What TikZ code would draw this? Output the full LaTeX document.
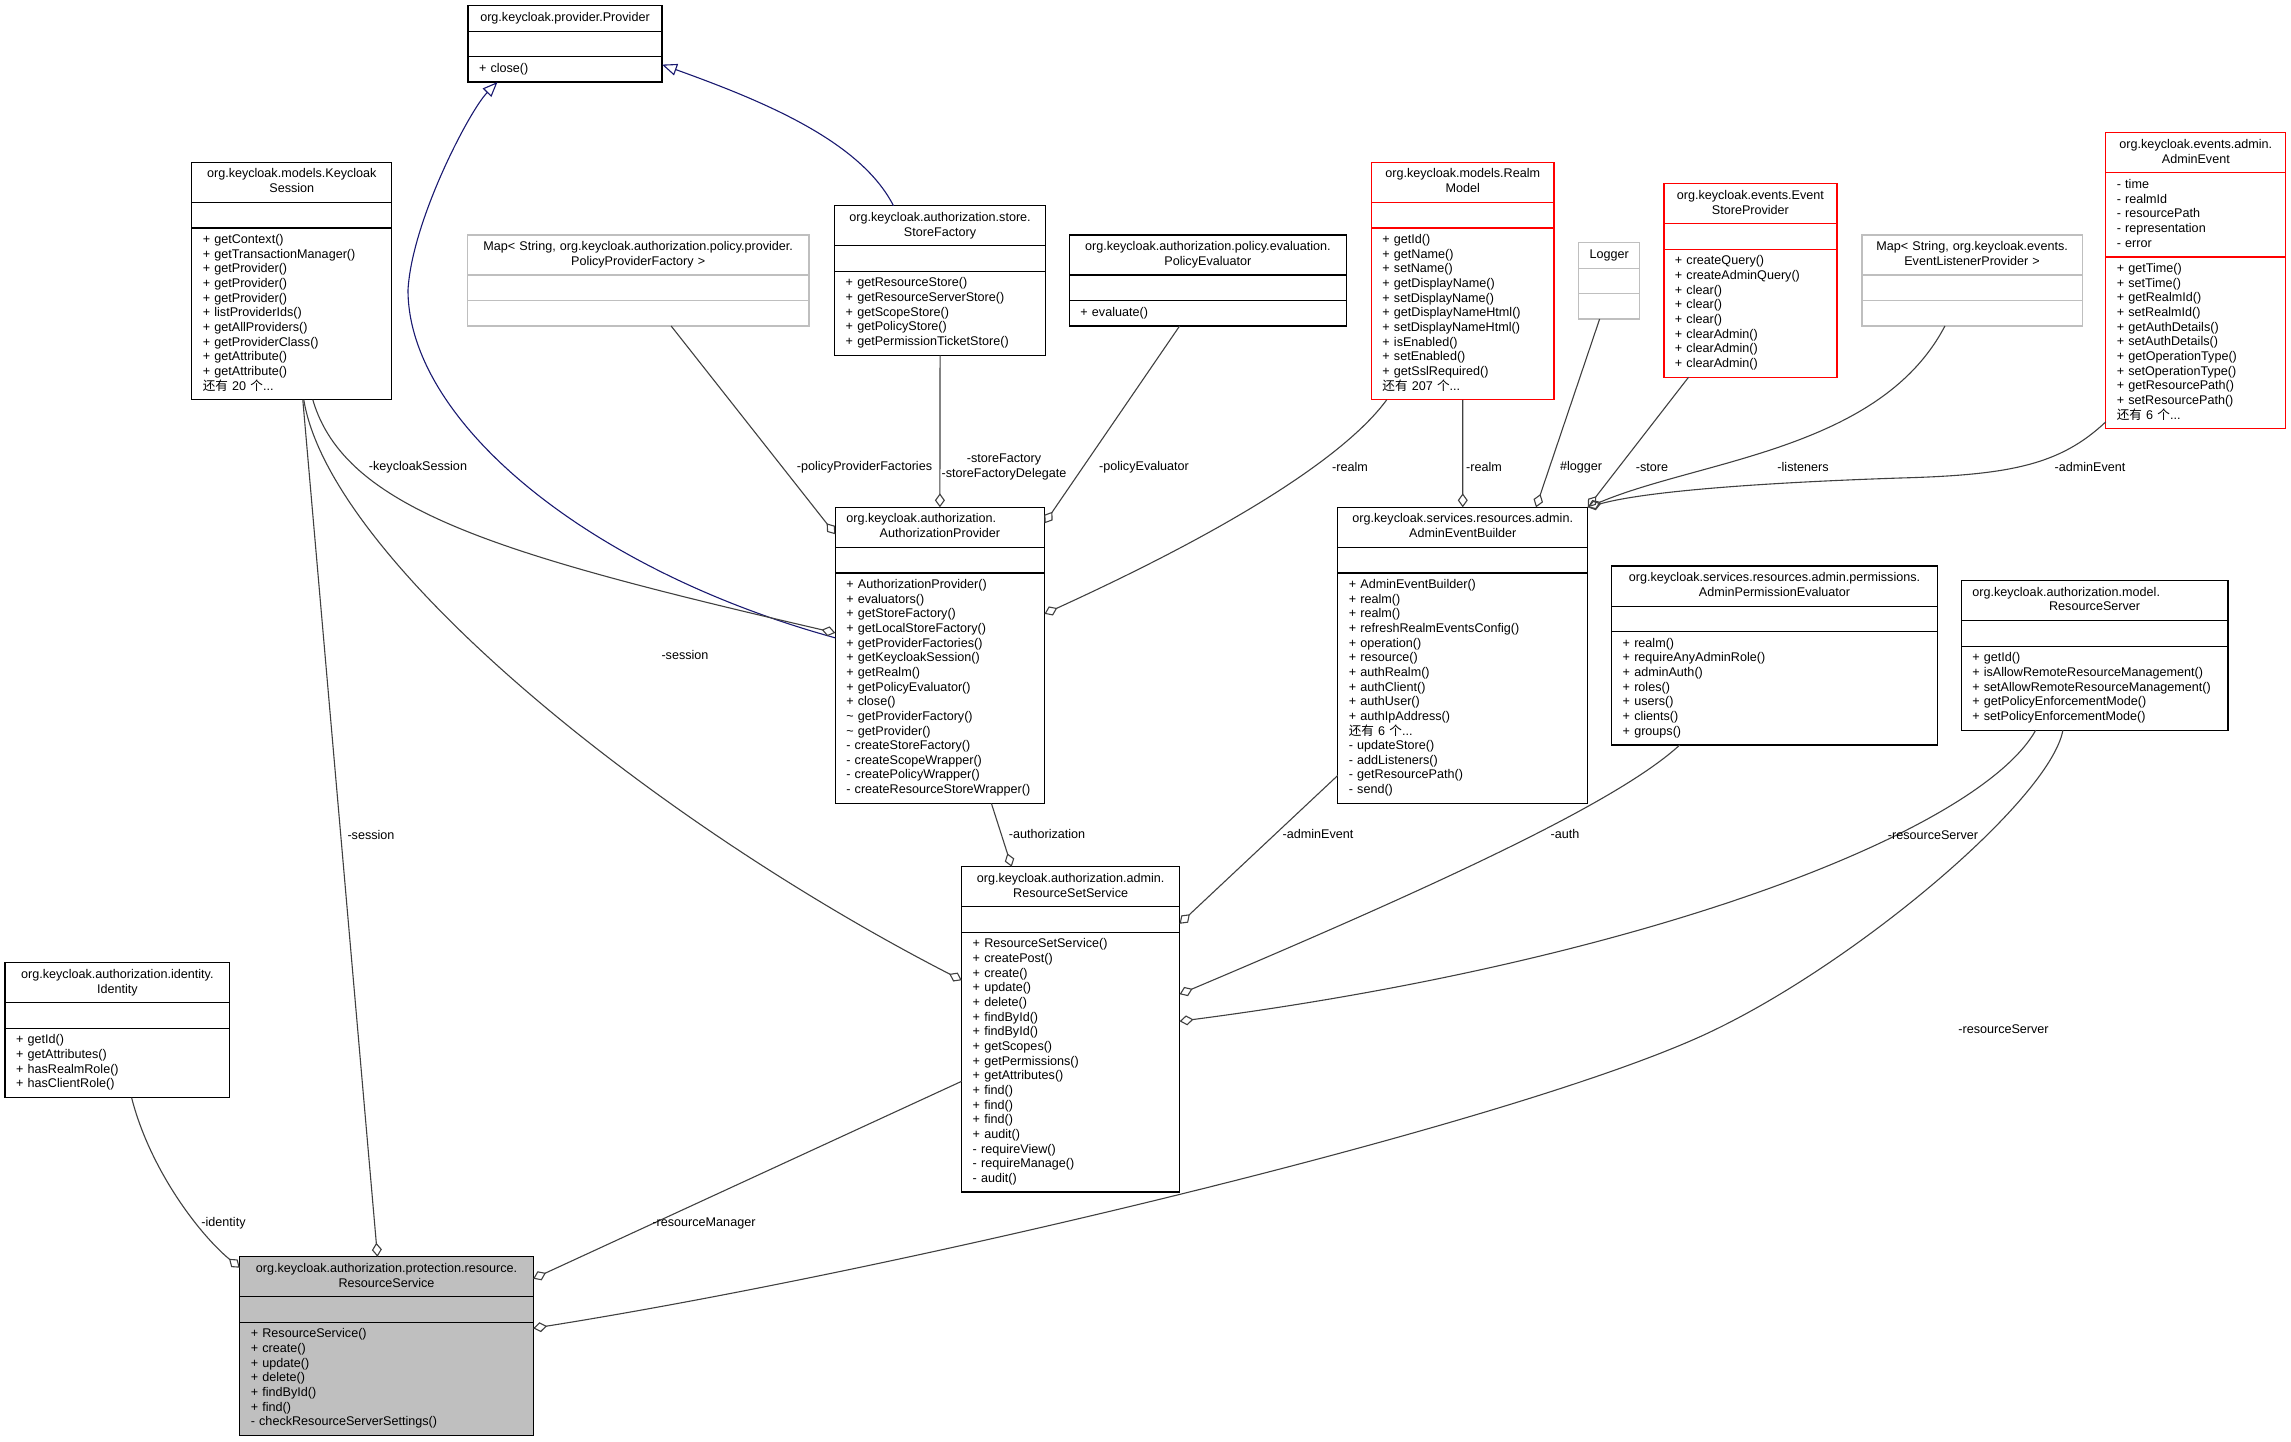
\documentclass[tikz,border=0pt]{standalone}
\usepackage{fontspec}
\setmainfont{Liberation Sans}
\newfontfamily\cjk{Noto Sans CJK SC}
\usetikzlibrary{positioning,arrows.meta}

\definecolor{edgegray}{HTML}{404040}
\definecolor{inhblue}{HTML}{191970}
\definecolor{boxred}{HTML}{FF0000}
\definecolor{boxgray}{HTML}{BFBFBF}

\tikzset{
    umlpart/.style={draw, rectangle, outer sep=0pt, inner xsep=11pt, inner ysep=5.4pt,
        line width=1.3pt, font={\fontsize{12.6}{14.65}\selectfont}},
    umltitle/.style={umlpart, anchor=north west, align=center},
    umlbody/.style={umlpart, align=left},
    lightbox/.style={draw=boxgray},
    redbox/.style={draw=boxred},
    mainbox/.style={fill=boxgray},
    assoc/.style={draw=edgegray, line width=1.1pt, -{Diamond[open,length=14pt,width=10pt]}},
    inherit/.style={draw=inhblue, line width=1.1pt, -{Triangle[open,length=15pt,width=12pt]}},
    lbl/.style={inner sep=0pt, align=center, font={\fontsize{12.6}{14.65}\selectfont}}
}

\newcommand{\andmore}[1]{{\cjk 还有} #1 {\cjk 个}...}
\newcommand{\lline}[1]{\makebox[\linewidth][l]{#1}}
\newcommand{\umlclass}[7][]{%
    \pgfmathsetmacro{\umltw}{#4-22}%
    \node[umltitle, #1, text width=\umltw pt] (#2) at (#3) {\strut#5\strut};
    \node[umlbody, #1, text width=\umltw pt, below=0pt of #2] (#2-a) {\strut#6\strut};
    \node[umlbody, #1, text width=\umltw pt, below=0pt of #2-a] (#2-m) {\strut#7\strut};
}

\begin{document}
\begin{tikzpicture}[x=1pt,y=-1pt]
    \useasboundingbox (0,0) rectangle (2291,1441);

    \umlclass{prov}{468,5.7}{194}{org.keycloak.provider.Provider}{}{+ close()}
    \umlclass{ksess}{191.8,162.3}{200}{org.keycloak.models.Keycloak\\Session}{}
        {+ getContext()\\+ getTransactionManager()\\+ getProvider()\\+ getProvider()\\+ getProvider()\\+ listProviderIds()\\+ getAllProviders()\\+ getProviderClass()\\+ getAttribute()\\+ getAttribute()\\\andmore{20}}
    \umlclass[lightbox]{ppmap}{467.3,235}{341.7}{Map< String, org.keycloak.authorization.policy.provider.\\PolicyProviderFactory >}{}{}
    \umlclass{sfact}{834.7,205.7}{210.7}{org.keycloak.authorization.store.\\StoreFactory}{}
        {+ getResourceStore()\\+ getResourceServerStore()\\+ getScopeStore()\\+ getPolicyStore()\\+ getPermissionTicketStore()}
    \umlclass{peval}{1069.4,235}{277}{org.keycloak.authorization.policy.evaluation.\\PolicyEvaluator}{}{+ evaluate()}
    \umlclass[redbox]{realm}{1371.4,162.3}{182.7}{org.keycloak.models.Realm\\Model}{}
        {+ getId()\\+ getName()\\+ setName()\\+ getDisplayName()\\+ setDisplayName()\\+ getDisplayNameHtml()\\+ setDisplayNameHtml()\\+ isEnabled()\\+ setEnabled()\\+ getSslRequired()\\\andmore{207}}
    \umlclass[lightbox]{logger}{1578.4,242.7}{61.4}{Logger}{}{}
    \umlclass[redbox]{estore}{1663.9,183.7}{173}{org.keycloak.events.Event\\StoreProvider}{}
        {+ createQuery()\\+ createAdminQuery()\\+ clear()\\+ clear()\\+ clear()\\+ clearAdmin()\\+ clearAdmin()\\+ clearAdmin()}
    \umlclass[lightbox]{elmap}{1861.9,235}{220.3}{Map< String, org.keycloak.events.\\EventListenerProvider >}{}{}
    \umlclass[redbox]{aevent}{2105.8,132.7}{180}{org.keycloak.events.admin.\\AdminEvent}
        {- time\\- realmId\\- resourcePath\\- representation\\- error}
        {+ getTime()\\+ setTime()\\+ getRealmId()\\+ setRealmId()\\+ getAuthDetails()\\+ setAuthDetails()\\+ getOperationType()\\+ setOperationType()\\+ getResourcePath()\\+ setResourcePath()\\\andmore{6}}
    \umlclass{authz}{835.3,507.3}{209.2}{\lline{org.keycloak.authorization.}\\AuthorizationProvider}{}
        {+ AuthorizationProvider()\\+ evaluators()\\+ getStoreFactory()\\+ getLocalStoreFactory()\\+ getProviderFactories()\\+ getKeycloakSession()\\+ getRealm()\\+ getPolicyEvaluator()\\+ close()\\\textasciitilde\ getProviderFactory()\\\textasciitilde\ getProvider()\\- createStoreFactory()\\- createScopeWrapper()\\- createPolicyWrapper()\\- createResourceStoreWrapper()}
    \umlclass{aeb}{1337.8,507.3}{249.9}{org.keycloak.services.resources.admin.\\AdminEventBuilder}{}
        {+ AdminEventBuilder()\\+ realm()\\+ realm()\\+ refreshRealmEventsConfig()\\+ operation()\\+ resource()\\+ authRealm()\\+ authClient()\\+ authUser()\\+ authIpAddress()\\\andmore{6}\\- updateStore()\\- addListeners()\\- getResourcePath()\\- send()}
    \umlclass{apeval}{1611.7,566.1}{325.6}{org.keycloak.services.resources.admin.permissions.\\AdminPermissionEvaluator}{}
        {+ realm()\\+ requireAnyAdminRole()\\+ adminAuth()\\+ roles()\\+ users()\\+ clients()\\+ groups()}
    \umlclass{rserver}{1961.3,580.6}{266.6}{\lline{org.keycloak.authorization.model.}\\ResourceServer}{}
        {+ getId()\\+ isAllowRemoteResourceManagement()\\+ setAllowRemoteResourceManagement()\\+ getPolicyEnforcementMode()\\+ setPolicyEnforcementMode()}
    \umlclass{rsset}{961.7,866.7}{217.9}{org.keycloak.authorization.admin.\\ResourceSetService}{}
        {+ ResourceSetService()\\+ createPost()\\+ create()\\+ update()\\+ delete()\\+ findById()\\+ findById()\\+ getScopes()\\+ getPermissions()\\+ getAttributes()\\+ find()\\+ find()\\+ find()\\+ audit()\\- requireView()\\- requireManage()\\- audit()}
    \umlclass{ident}{5.1,962.7}{224.5}{org.keycloak.authorization.identity.\\Identity}{}
        {+ getId()\\+ getAttributes()\\+ hasRealmRole()\\+ hasClientRole()}
    \umlclass[mainbox]{rsvc}{239.8,1256.7}{293.4}{org.keycloak.authorization.protection.resource.\\ResourceService}{}
        {+ ResourceService()\\+ create()\\+ update()\\+ delete()\\+ findById()\\+ find()\\- checkResourceServerSettings()}

    % generalization
    \draw[inherit] ([yshift=-65pt]authz-m.north west) .. controls (585,569) and (408,420) .. (408,290)
        .. controls (412,220) and (470,110) .. ([xshift=29.5pt]prov-m.south west);
    \draw[inherit] ([xshift=-46.6pt]sfact.north) .. controls (860,140) and (760,100) .. ([yshift=-8pt]prov-m.north east);

    % members
    \draw[assoc] ([xshift=21pt]ksess-m.south) .. controls (345,510) and (500,555) .. ([yshift=-60pt]authz-m.north west);
    \draw[assoc] ([xshift=12pt]ksess-m.south) .. controls (330,560) and (650,820) .. ([yshift=-48pt]rsset-m.north west);
    \draw[assoc] ([xshift=11pt]ksess-m.south) -- ([xshift=-9pt]rsvc.north);
    \draw[assoc] ([xshift=33pt]ppmap-m.south) -- ([yshift=-27pt]authz.north west);
    \draw[assoc] (sfact-m.south) -- (authz.north);
    \draw[assoc] ([xshift=-28.3pt]peval-m.south) -- ([yshift=-16pt]authz.north east);
    \draw[assoc] ([xshift=15.3pt]realm-m.south west) .. controls (1350,450) and (1250,520) .. ([yshift=-41pt]authz-m.north east);
    \draw[assoc] (realm-m.south) -- (aeb.north);
    \draw[assoc] ([xshift=-9.5pt]logger-m.south) -- ([xshift=-51.7pt]aeb.north east);
    \draw[assoc] ([xshift=24.6pt]estore-m.south west) -- (aeb.north east);
    \draw[assoc] ([xshift=83pt]elmap-m.south west) .. controls (1880,450) and (1700,460) .. (aeb.north east);
    \draw[assoc] ([yshift=7pt]aevent-m.south west) .. controls (2060,465) and (2010,475) .. (1900,478)
        .. controls (1780,482) and (1650,490) .. (aeb.north east);
    \draw[assoc] ([xshift=51.5pt]authz-m.south) -- ([xshift=-59pt]rsset.north);
    \draw[assoc] ([yshift=28pt]aeb-m.south west) -- ([yshift=-17pt]rsset-a.north east);
    \draw[assoc] ([xshift=68pt]apeval-m.south west) .. controls (1620,800) and (1450,880) .. ([yshift=-62pt]rsset-m.north east);
    \draw[assoc] ([xshift=74.4pt]rserver-m.south west) .. controls (1980,830) and (1650,960) .. ([yshift=-89pt]rsset-m.north east);
    \draw[assoc] ([xshift=126.5pt]ident-m.south west) .. controls (150,1170) and (200,1235) .. ([yshift=-11pt]rsvc.north west);
    \draw[assoc] ([yshift=-149pt]rsset-m.north west) -- ([yshift=-22pt]rsvc.north east);
    \draw[assoc] ([xshift=101.6pt]rserver-m.south west) .. controls (2050,800) and (1850,969) .. (1700,1036.7)
        .. controls (1500,1126.7) and (900,1270) .. ([yshift=-6pt]rsvc-m.north east);

    \node[lbl] (l-ksess) at (418,467) {-keycloakSession};
    \node[lbl] (l-ppf) at (864.5,467) {-policyProviderFactories};
    \node[lbl] (l-sf) at (1004,467) {-storeFactory\\-storeFactoryDelegate};
    \node[lbl] (l-pe) at (1144,467) {-policyEvaluator};
    \node[lbl] (l-realm1) at (1350,467) {-realm};
    \node[lbl] (l-realm2) at (1484,467) {-realm};
    \node[lbl] (l-logger) at (1581,467) {\#logger};
    \node[lbl] (l-store) at (1652,467) {-store};
    \node[lbl] (l-listen) at (1803,467) {-listeners};
    \node[lbl] (l-aevent1) at (2090,467) {-adminEvent};
    \node[lbl] (l-sess1) at (685,655) {-session};
    \node[lbl] (l-authz) at (1047,834.3) {-authorization};
    \node[lbl] (l-aevent2) at (1318,834.3) {-adminEvent};
    \node[lbl] (l-auth) at (1565,834.3) {-auth};
    \node[lbl] (l-rs1) at (1933,834.8) {-resourceServer};
    \node[lbl] (l-rs2) at (2003.5,1029.2) {-resourceServer};
    \node[lbl] (l-sess2) at (371,835) {-session};
    \node[lbl] (l-ident) at (223.5,1223.3) {-identity};
    \node[lbl] (l-rm) at (704,1223.3) {-resourceManager};
\end{tikzpicture}
\end{document}
